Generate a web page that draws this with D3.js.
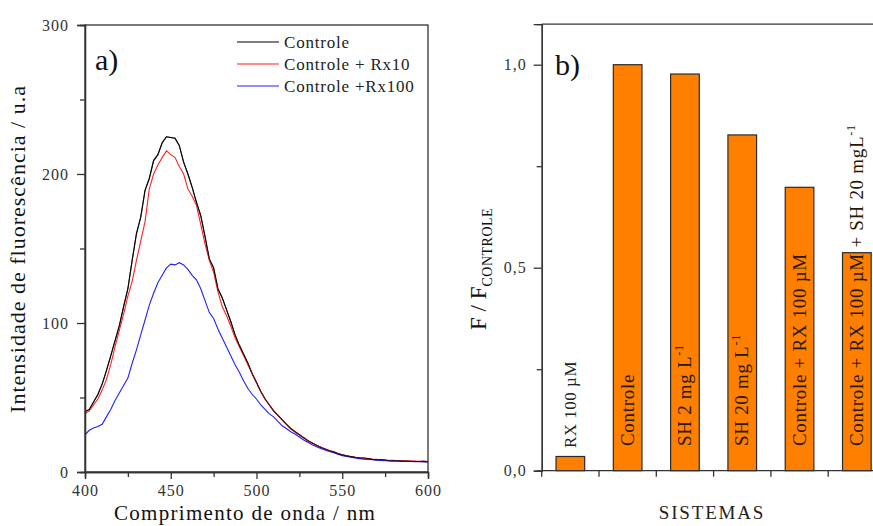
<!DOCTYPE html>
<html><head><meta charset="utf-8">
<script src="https://cdn.jsdelivr.net/npm/d3@7"></script>
<style>body{margin:0;background:#fff}svg{display:block}text{font-family:"Liberation Serif","Times New Roman",serif}</style>
</head><body><svg id="c" width="873" height="526"></svg>
<script>
// ---- Panel a) data (2.5 nm steps, 400–600 nm) ----
const wavelengths = d3.range(0, 81).map(i => 400 + i*2.5);
const controle = [40.5,42,47,52,59,68,78,88,98,111,123,142,160,171,189,197,209,213,221,225,224.5,224,219,208,200,191,181,172,158,143,137,123,117,109,101,92,85,79,73,66,60,54,49,45,41,38,35,32,29,27,25,23,21,19.5,18,16.5,15.5,14.3,13.5,12.3,11.5,10.8,10.3,9.8,9.5,9.4,9,8.5,8.3,8.4,8,7.6,7.7,7.5,7.3,7.4,7.2,7,7,7.1,6.9];
const controleRx10 = [39,41,45,49,55,62,72,84,95,106,118,128,142,155,168,190,200,206,211,215.5,213,211,205,200,190,185,179,166,153,142,134,121,111,105,98,90,84,78,72,66,60,54,49,45,41,38,35,32,29.5,27,25,23,21,19.5,18,16.8,15.5,14.5,13.5,12.5,11.5,10.8,10.2,9.9,9.5,9.1,8.8,8.6,8.5,8.2,8,7.9,7.8,7.6,7.5,7.4,7.3,7.3,7.2,7.1,7.1];
const controleRx100 = [25,28,29.5,30.5,32,37,42,48,53,58,63,73,82,92,102,112,120,127,132,137,139.5,139,140.5,139,136,132,129,123,115,107,103,96,90,84,78,72,67,61,56,52,49,45,42,39,37,34,31,29,27,25.5,23.5,21.5,20,18.3,17,15.8,14.8,13.8,13,12,11,10.5,10,9.4,9,8.6,8.4,8.2,8,7.8,7.6,7.4,7.3,7.2,7.1,7,7,6.9,6.9,6.8,6.8];
const seriesNames = ["Controle","Controle + Rx10","Controle +Rx100"];
const seriesColors = ["#000000","#ff2020","#2020ff"];
const xTicksA = [400,450,500,550,600];
const yTicksA = [0,100,200,300];

// ---- Panel b) data ----
const categories = ["RX 100 µM","Controle","SH 2 mg L-1","SH 20 mg L-1","Controle + RX 100 µM","Controle + RX 100 µM + SH 20 mgL-1"];
const ratios = [0.035,1.0,0.977,0.827,0.698,0.537];
const yTicksB = [0,0.5,1.0];
const yTickLabelsB = ["0,0","0,5","1,0"];

const svg = d3.select("#c");
const axisColor = "#333";

// ================= Panel a =================
const xA = d3.scaleLinear().domain([400,600]).range([85,428]);
const yA = d3.scaleLinear().domain([0,300]).range([472,25]);
const gA = svg.append("g");

gA.append("rect").attr("x",xA(400)).attr("y",yA(300)).attr("width",xA(600)-xA(400)).attr("height",yA(0)-yA(300))
  .attr("fill","none").attr("stroke",axisColor).attr("stroke-width",1.3);

const lineA = d3.line().x((d,i)=>xA(wavelengths[i])).y(d=>yA(d));
[controle, controleRx10, controleRx100].forEach((s,k)=>{
  gA.append("path").datum(s).attr("d",lineA).attr("fill","none").attr("stroke",seriesColors[k]).attr("stroke-width",1.1);
});
gA.append("path").datum(controle).attr("d",lineA).attr("fill","none").attr("stroke","#000").attr("stroke-width",1.1).attr("opacity",0.6);

const xAxisA = d3.axisBottom(xA).tickValues(xTicksA).tickSize(7).tickPadding(6).tickFormat(d3.format("d"));
gA.append("g").attr("transform",`translate(0,${yA(0)})`).call(xAxisA);
const xMinorA = d3.axisBottom(xA).tickValues(d3.range(425,600,50)).tickSize(5).tickFormat("");
gA.append("g").attr("transform",`translate(0,${yA(0)})`).call(xMinorA);
const yAxisA = d3.axisLeft(yA).tickValues(yTicksA).tickSize(8).tickPadding(8);
gA.append("g").attr("transform",`translate(${xA(400)},0)`).call(yAxisA);
const yMinorA = d3.axisLeft(yA).tickValues([50,150,250]).tickSize(5).tickFormat("");
gA.append("g").attr("transform",`translate(${xA(400)},0)`).call(yMinorA);

seriesNames.forEach((n,k)=>{
  const yy = 42 + k*22;
  gA.append("line").attr("x1",237).attr("x2",279).attr("y1",yy).attr("y2",yy).attr("stroke",seriesColors[k]).attr("stroke-width",1.2);
  gA.append("text").attr("x",284).attr("y",yy+5.5).attr("font-size",17).attr("letter-spacing",0.8).attr("fill","#222").text(n);
});
gA.append("text").attr("x",95).attr("y",70).attr("font-size",30).attr("fill","#111").text("a)");

gA.append("text").attr("transform","translate(25,249) rotate(-90)").attr("text-anchor","middle")
  .attr("font-size",22).attr("letter-spacing",1).attr("fill","#111").text("Intensidade de fluorescência / u.a");
gA.append("text").attr("x",245).attr("y",520).attr("text-anchor","middle")
  .attr("font-size",21).attr("letter-spacing",1.3).attr("fill","#111").text("Comprimento de onda / nm");

// ================= Panel b =================
const xB = d3.scaleBand().domain(categories).range([541.7,885.5]).paddingInner(0.5).paddingOuter(0.25);
const yB = d3.scaleLinear().domain([0,1.1]).range([470.7,24.1]);
const gB = svg.append("g");
const step = xB.step();

gB.append("line").attr("x1",xB.range()[0]).attr("x2",xB.range()[1]).attr("y1",yB(1.1)).attr("y2",yB(1.1)).attr("stroke",axisColor).attr("stroke-width",1.3);
gB.append("line").attr("x1",xB.range()[1]).attr("x2",xB.range()[1]).attr("y1",yB(1.1)).attr("y2",yB(0)).attr("stroke",axisColor).attr("stroke-width",1.3);

gB.selectAll("rect.bar").data(categories).join("rect").attr("class","bar")
  .attr("x",d=>xB(d)).attr("width",xB.bandwidth())
  .attr("y",(d,i)=>yB(ratios[i])).attr("height",(d,i)=>yB(0)-yB(ratios[i]))
  .attr("fill","#ff8000").attr("stroke","#2a2a2a").attr("stroke-width",1.2);

const yAxisB = d3.axisLeft(yB).tickValues(yTicksB).tickSize(8).tickPadding(7).tickFormat((d,i)=>yTickLabelsB[i]);
gB.append("g").attr("transform",`translate(${xB.range()[0]},0)`).call(yAxisB);
const yMinorB = d3.axisLeft(yB).tickValues([0.25,0.75]).tickSize(5).tickFormat("");
gB.append("g").attr("transform",`translate(${xB.range()[0]},0)`).call(yMinorB);
const xEdges = d3.range(categories.length+1).map(i=>xB(categories[0]) - step*0.25 + i*step);
gB.append("line").attr("x1",xB.range()[0]).attr("x2",xB.range()[1]).attr("y1",yB(0)).attr("y2",yB(0)).attr("stroke",axisColor).attr("stroke-width",1.3);
gB.selectAll("line.xt").data(xEdges).join("line").attr("class","xt")
  .attr("x1",d=>d).attr("x2",d=>d).attr("y1",yB(0)).attr("y2",yB(0)+6).attr("stroke",axisColor).attr("stroke-width",1.3);

const labelParts = [
  [["RX 100 µM",null]],
  [["Controle",null]],
  [["SH 2 mg L",null],["-1","sup"]],
  [["SH 20 mg L",null],["-1","sup"]],
  [["Controle + RX 100 µM",null]],
  [["Controle + RX 100 µM + SH 20 mgL",null],["-1","sup"]]
];
categories.forEach((c,i)=>{
  const cx = xB(c) + xB.bandwidth()/2;
  const t = gB.append("text").attr("transform",`translate(${cx+6},${i===0?448:446}) rotate(-90)`)
    .attr("font-size", i===0 ? 17 : 19).attr("letter-spacing", i===0 ? 0.5 : 0.7)
    .attr("fill", i===0 ? "#222" : "#2a1800");
  labelParts[i].forEach(([s,k])=>{
    if(k==="sup") t.append("tspan").attr("dy",-8).attr("font-size",12).text(s);
    else t.append("tspan").text(s);
  });
});

gB.append("text").attr("x",555).attr("y",75).attr("font-size",30).attr("fill","#111").text("b)");

const yl = gB.append("text").attr("transform","translate(486,330) rotate(-90)").attr("fill","#111");
yl.append("tspan").attr("font-size",23).text("F / F");
yl.append("tspan").attr("font-size",14).attr("letter-spacing",0.5).attr("dy",6).text("CONTROLE");

gB.append("text").attr("x",712).attr("y",519).attr("text-anchor","middle").attr("font-size",19)
  .attr("letter-spacing",1.8).attr("fill","#222").text("SISTEMAS");

svg.selectAll(".domain").attr("stroke",axisColor).attr("stroke-width",1.3);
svg.selectAll(".tick line").attr("stroke",axisColor).attr("stroke-width",1.3);
svg.selectAll(".tick text").attr("font-family","Liberation Serif, serif").attr("font-size",16).attr("fill","#333").attr("letter-spacing",1);
</script></body></html>
